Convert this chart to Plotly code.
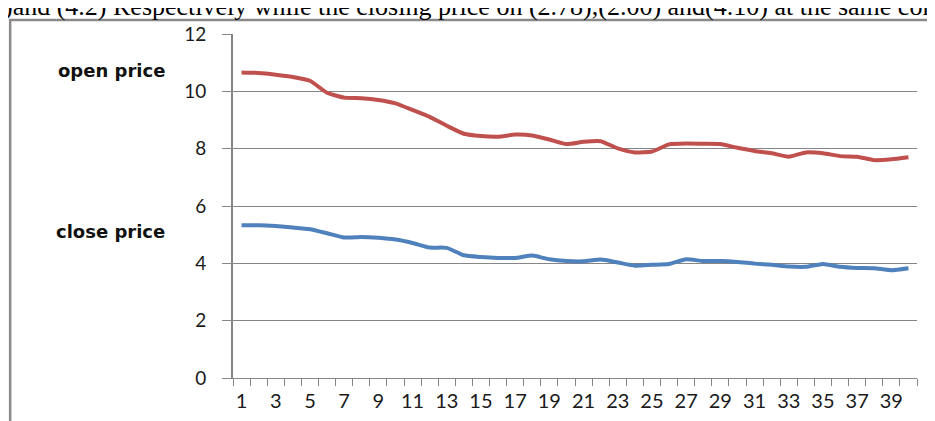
import plotly.graph_objects as go

days = list(range(1, 41))
open_price = [10.66, 10.64, 10.58, 10.50, 10.37, 9.95, 9.78, 9.76, 9.70, 9.58,
              9.35, 9.11, 8.80, 8.52, 8.44, 8.42, 8.49, 8.46, 8.32, 8.16,
              8.24, 8.26, 8.01, 7.87, 7.90, 8.15, 8.18, 8.17, 8.16, 8.03,
              7.92, 7.84, 7.72, 7.87, 7.84, 7.74, 7.72, 7.60, 7.63, 7.70]
close_price = [5.33, 5.33, 5.30, 5.25, 5.19, 5.05, 4.90, 4.92, 4.89, 4.83,
               4.71, 4.55, 4.54, 4.28, 4.22, 4.19, 4.19, 4.27, 4.14, 4.08,
               4.07, 4.13, 4.03, 3.92, 3.95, 3.98, 4.14, 4.08, 4.08, 4.05,
               3.99, 3.95, 3.89, 3.88, 3.98, 3.88, 3.84, 3.83, 3.76, 3.83]
x_tick_labels = [str(d) for d in days if d % 2 == 1]
y_ticks = [0, 2, 4, 6, 8, 10, 12]

# the page body adds an 8px offset; figure coordinates are compensated
OFF = 8
W, H = 935, 421
L, T = 224.5, 26
R = W - (917 - OFF)
B = H - (377.7 - OFF)
PW, PH = W - L - R, H - T - B

def px(X):  # screen pixel -> paper x
    return (X - OFF - L) / PW

def py(Y):  # screen pixel -> paper y
    return (H - B - (Y - OFF)) / PH

fig = go.Figure()
fig.add_trace(go.Scatter(x=days, y=open_price, mode="lines", name="open price",
                         line=dict(color="#C0504D", width=4, shape="spline", smoothing=0.5)))
fig.add_trace(go.Scatter(x=days, y=close_price, mode="lines", name="close price",
                         line=dict(color="#4F81BD", width=4, shape="spline", smoothing=0.5)))

x_font = dict(family="Lato, Open Sans, sans-serif", size=20, color="#1a1a1a")
y_font = dict(family="Lato, Open Sans, sans-serif", size=19, color="#1a1a1a")

fig.update_layout(
    width=W, height=H,
    margin=dict(l=L, r=R, t=T, b=B, autoexpand=False),
    paper_bgcolor="white", plot_bgcolor="white",
    showlegend=False,
    xaxis=dict(
        range=[0.5, 40.5],
        tickmode="array",
        tickvals=[d for d in days if d % 2 == 1],
        ticktext=x_tick_labels,
        ticks="outside", ticklen=5, tickcolor="rgba(0,0,0,0)",
        tickfont=x_font,
        showgrid=False, zeroline=False,
        showline=True, linecolor="#868686", linewidth=1,
        minor=dict(tick0=0.5, dtick=1, ticks="outside", ticklen=7,
                   tickcolor="#868686", tickwidth=1, showgrid=False),
        fixedrange=True,
    ),
    yaxis=dict(
        range=[0, 12],
        tickmode="array", tickvals=y_ticks,
        ticks="outside", ticklen=9, tickcolor="#868686", tickwidth=1,
        tickfont=y_font,
        ticklabelstandoff=12,
        showgrid=True, gridcolor="#868686", gridwidth=1,
        zeroline=False,
        showline=True, linecolor="#868686", linewidth=2,
        fixedrange=True,
    ),
)

# outer frame
fig.add_shape(type="rect", xref="paper", yref="paper",
              x0=px(9.5), x1=px(1000), y0=py(20), y1=py(500),
              line=dict(color="#8a8a8a", width=2.5), layer="above")

label_font = dict(family="DejaVu Sans, Verdana, sans-serif", size=18, color="#111111")
fig.add_annotation(xref="paper", yref="paper", x=px(166), y=py(70),
                   text="<b>open price</b>", showarrow=False,
                   xanchor="right", yanchor="middle", font=label_font)
fig.add_annotation(xref="paper", yref="paper", x=px(166), y=py(231),
                   text="<b>close price</b>", showarrow=False,
                   xanchor="right", yanchor="middle", font=label_font)

fig.add_annotation(xref="paper", yref="paper", x=px(1), y=py(6.5),
                   text=")and (4.2) Respectively while the closing price on (2.78),(2.00) and(4.10) at the same company",
                   showarrow=False, xanchor="left", yanchor="middle",
                   font=dict(family="Liberation Serif, Times New Roman, serif", size=26, color="#000000"))

fig.write_html("out.html")
